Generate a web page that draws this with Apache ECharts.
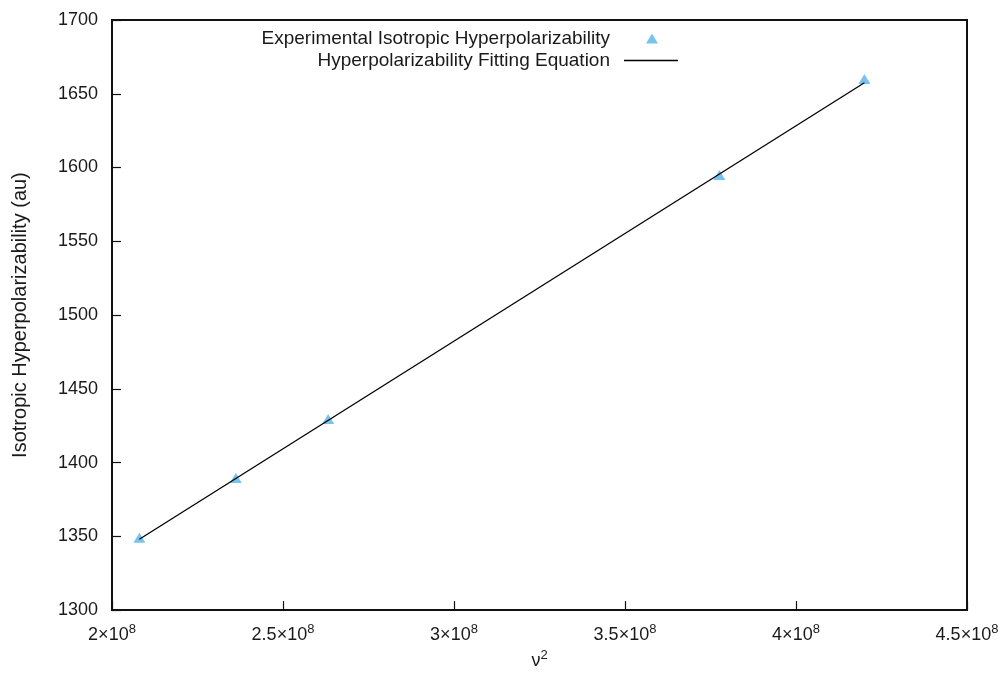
<!DOCTYPE html>
<html>
<head>
<meta charset="utf-8">
<script src="https://cdn.jsdelivr.net/npm/echarts@6/dist/echarts.min.js"></script>
<style>
  html, body { margin: 0; padding: 0; background: #fff; }
  #chart { width: 1007px; height: 675px; }
</style>
</head>
<body>
<div id="chart"></div>
<script>
// Measured squared frequencies (v^2) and isotropic hyperpolarizability (au)
var nuSquared = [2.08e8, 2.362e8, 2.632e8, 3.776e8, 4.2e8];
var hyperpol = [1349, 1389.5, 1429.5, 1595, 1660];

// Endpoints of the linear fit line
var fitX = [2.08e8, 4.2e8];
var fitY = [1348, 1657.5];

var seriesNames = ['Experimental Isotropic Hyperpolarizability', 'Hyperpolarizability Fitting Equation'];

var FONT = 'Liberation Sans, Arial, Helvetica, sans-serif';
var TEXT = '#1a1a1a';

var points = nuSquared.map(function (x, i) { return [x, hyperpol[i]]; });
var fitLine = fitX.map(function (x, i) { return [x, fitY[i]]; });

function sciLabel(v) {
  var m = +(v / 1e8).toFixed(2);
  return m + '×10{sup|8}';
}

var supStyle = { fontSize: 13, verticalAlign: 'top', padding: [0, 0, 11, 0], color: TEXT, fontFamily: FONT };

var chart = echarts.init(document.getElementById('chart'), null, { renderer: 'canvas' });
chart.setOption({
  backgroundColor: '#fff',
  animation: false,
  textStyle: { fontFamily: FONT },
  grid: {
    left: 112, right: 40, top: 20, bottom: 60,
    show: true, borderColor: '#111', borderWidth: 2, backgroundColor: 'transparent'
  },
  legend: [
    {
      data: [seriesNames[0]],
      right: 344, top: 24,
      align: 'right',
      itemWidth: 12, itemHeight: 10,
      textStyle: { fontFamily: FONT, fontSize: 19, color: TEXT, padding: [0, 31, 0, 0] }
    },
    {
      data: [{ name: seriesNames[1], icon: 'rect' }],
      right: 324, top: 46,
      align: 'right',
      itemWidth: 54, itemHeight: 1.4,
      itemStyle: { color: '#000', borderWidth: 0 },
      textStyle: { fontFamily: FONT, fontSize: 19, color: TEXT, padding: [0, 9, 0, 0] }
    }
  ],
  xAxis: {
    type: 'value',
    min: 2e8, max: 4.5e8, interval: 0.5e8,
    name: 'ν{sup|2}',
    nameLocation: 'middle',
    nameGap: 36,
    nameTextStyle: {
      fontFamily: FONT, fontSize: 18, color: TEXT,
      rich: { sup: supStyle }
    },
    axisLine: { show: false },
    axisTick: { show: true, inside: true, length: 9, lineStyle: { color: '#111', width: 1.2 } },
    splitLine: { show: false },
    axisLabel: {
      margin: 13,
      fontFamily: FONT, fontSize: 18, color: TEXT,
      formatter: sciLabel,
      rich: { sup: supStyle }
    }
  },
  yAxis: {
    type: 'value',
    min: 1300, max: 1700, interval: 50,
    name: 'Isotropic Hyperpolarizability (au)',
    nameLocation: 'middle',
    nameGap: 82,
    nameTextStyle: { fontFamily: FONT, fontSize: 20, color: TEXT },
    axisLine: { show: false },
    axisTick: { show: true, inside: true, length: 9, lineStyle: { color: '#111', width: 1.2 } },
    splitLine: { show: false },
    axisLabel: {
      margin: 14, fontFamily: FONT, fontSize: 18, color: TEXT,
      formatter: function (v) { return String(v); }
    }
  },
  series: [
    {
      name: seriesNames[0],
      type: 'scatter',
      data: points,
      symbol: 'triangle',
      symbolSize: [12, 10],
      itemStyle: { color: '#56B4E9' },
      z: 3
    },
    {
      name: seriesNames[1],
      type: 'line',
      data: fitLine,
      symbol: 'none',
      showSymbol: false,
      lineStyle: { color: '#000', width: 1.3 },
      itemStyle: { color: '#000' },
      z: 4
    }
  ]
});
</script>
</body>
</html>
